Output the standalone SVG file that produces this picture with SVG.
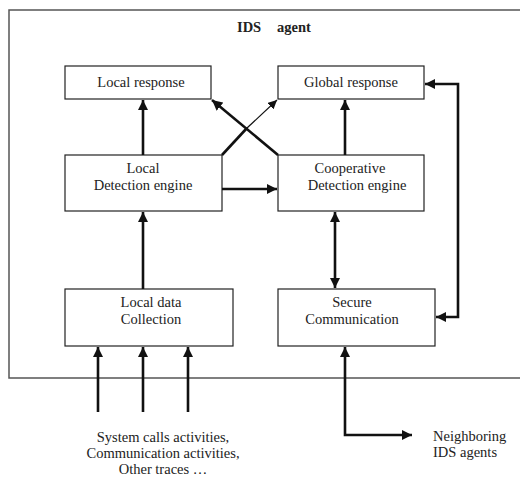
<svg xmlns="http://www.w3.org/2000/svg" width="520" height="480" viewBox="0 0 520 480">
<style>
.box{fill:#fff;stroke:#222;stroke-width:1.2}
.t{font-family:"Liberation Serif","Times New Roman",serif;font-size:14.5px;fill:#222;text-anchor:middle}
.s{text-anchor:start}
.c{fill:none;stroke:#111;stroke-width:2.6}
.thin{fill:none;stroke:#111;stroke-width:1.2}
</style>
<defs>
<marker id="ah" viewBox="0 0 10 10" refX="10" refY="5" markerWidth="4" markerHeight="4" orient="auto-start-reverse" markerUnits="strokeWidth">
<path d="M0,0 L10,5 L0,10 z" fill="#111"/>
</marker>
<marker id="ahs" viewBox="0 0 10 10" refX="10" refY="5" markerWidth="9" markerHeight="9" orient="auto" markerUnits="userSpaceOnUse">
<path d="M0,0 L10,5 L0,10 z" fill="#111"/>
</marker>
</defs>
<rect width="520" height="480" fill="#fff"/>
<g id="agent">
<rect x="9" y="10" width="530" height="368" fill="none" stroke="#555" stroke-width="1.5"/>
<text class="t s" x="237" y="32" font-weight="bold">IDS</text>
<text class="t s" x="277" y="32" font-weight="bold">agent</text>
</g>
<g id="local-response">
<rect class="box" x="65" y="66" width="146" height="33"/>
<text class="t" x="141" y="87">Local response</text>
</g>
<g id="global-response">
<rect class="box" x="278" y="66" width="146" height="33"/>
<text class="t" x="351" y="87">Global response</text>
</g>
<g id="local-detection">
<rect class="box" x="65" y="155" width="157" height="56"/>
<text class="t" x="143" y="173">Local</text>
<text class="t" x="143" y="190">Detection engine</text>
</g>
<g id="cooperative-detection">
<rect class="box" x="278" y="155" width="146" height="56"/>
<text class="t" x="350" y="173">Cooperative</text>
<text class="t" x="357" y="190">Detection engine</text>
</g>
<g id="local-data">
<rect class="box" x="65" y="289" width="168" height="57"/>
<text class="t" x="151" y="307">Local data</text>
<text class="t" x="151" y="324">Collection</text>
</g>
<g id="secure-communication">
<rect class="box" x="278" y="289" width="157" height="57"/>
<text class="t" x="352" y="307">Secure</text>
<text class="t" x="352" y="324">Communication</text>
</g>
<g id="inputs-label">
<text class="t" x="163" y="442">System calls activities,</text>
<text class="t" x="163" y="458">Communication activities,</text>
<text class="t" x="163" y="474">Other traces …</text>
</g>
<g id="neighbors-label">
<text class="t s" x="433" y="441">Neighboring</text>
<text class="t s" x="433" y="457">IDS agents</text>
</g>
<g id="connectors">
<line class="c" x1="143" y1="155" x2="143" y2="100" marker-end="url(#ah)"/>
<line class="c" x1="345" y1="155" x2="345" y2="100" marker-end="url(#ah)"/>
<line class="c" x1="222" y1="189" x2="277" y2="189" marker-end="url(#ah)"/>
<line class="c" x1="143" y1="289" x2="143" y2="212" marker-end="url(#ah)"/>
<line class="c" x1="335" y1="212" x2="335" y2="288" marker-start="url(#ah)" marker-end="url(#ah)"/>
<polyline class="c" points="425,84 458,84 458,317 436,317" marker-start="url(#ah)" marker-end="url(#ah)"/>
<line class="c" x1="98" y1="412" x2="98" y2="347" marker-end="url(#ah)"/>
<line class="c" x1="143" y1="412" x2="143" y2="347" marker-end="url(#ah)"/>
<line class="c" x1="188" y1="412" x2="188" y2="347" marker-end="url(#ah)"/>
<polyline class="c" points="345,347 345,435 412,435" marker-start="url(#ah)" marker-end="url(#ah)"/>
<line class="c" x1="278" y1="155" x2="212" y2="100" marker-end="url(#ah)"/>
<line class="c" x1="222" y1="155" x2="247" y2="128"/>
<line class="thin" x1="247" y1="128" x2="277" y2="100" marker-end="url(#ahs)"/>
</g>
</svg>
